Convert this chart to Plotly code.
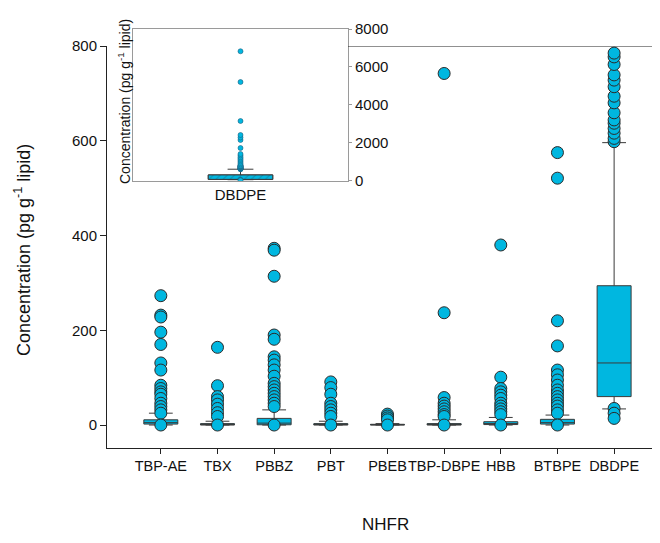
import plotly.graph_objects as go

# ---------------- data ----------------
categories = ["TBP-AE", "TBX", "PBBZ", "PBT", "PBEB", "TBP-DBPE", "HBB", "BTBPE", "DBDPE"]
q1 = [2, 0, 0.5, 0, 0, 0, 1, 2, 60]
median = [5, 1, 4, 1, 0.5, 1, 3, 5, 131]
q3 = [11, 3, 14, 3, 1.5, 3, 7, 12, 294]
lower_fence = [0, 0, 0, 0, 0, 0, 0, 0, 34]
upper_fence = [25, 8, 32, 8, 3, 11, 16, 21, 596]

out_tbpae = [273, 232, 228, 196, 170, 131, 116, 84, 77, 70, 65, 56, 46, 39, 32, 25, 0]
out_tbx = [164, 83, 60, 53, 44, 35, 26, 18, 0]
out_pbbz = [373, 369, 314, 190, 181, 144, 137, 127, 116, 103, 88, 81, 74, 67, 60, 53, 46, 39, 0]
out_pbt = [91, 79, 65, 46, 39, 32, 25, 18, 0]
out_pbeb = [23, 19, 15, 11, 0]
out_tbpdbpe = [742, 237, 58, 46, 40, 34, 28, 22, 18, 0]
out_hbb = [380, 101, 77, 70, 63, 56, 46, 40, 34, 28, 22, 0]
out_btbpe = [575, 521, 220, 167, 116, 106, 95, 84, 74, 67, 60, 53, 46, 40, 32, 25, 0]
out_dbdpe = [598, 605, 616, 626, 637, 644, 659, 680, 694, 714, 728, 739, 761, 777, 785,
             850, 920, 1000, 1080, 1150, 1230, 1320, 1400, 1716, 2139, 2271, 2403, 3142,
             5200, 6825, 35, 25, 14]
outliers = [out_tbpae, out_tbx, out_pbbz, out_pbt, out_pbeb, out_tbpdbpe, out_hbb, out_btbpe, out_dbdpe]

main_yticks = [0, 200, 400, 600, 800]
inset_yticks = [0, 2000, 4000, 6000, 8000]
inset_category = "DBDPE"

# ---------------- style ----------------
CYAN = "#00B7E0"
EDGE = "#2a2a2a"
FONT = "Liberation Sans, Arial, sans-serif"
idx = list(range(len(categories)))

fig = go.Figure()

# main boxes
fig.add_trace(go.Box(
    x=idx, q1=q1, median=median, q3=q3,
    lowerfence=lower_fence, upperfence=upper_fence,
    width=0.6, whiskerwidth=0.7, boxpoints=False,
    fillcolor=CYAN, line=dict(color="#3a3a3a", width=1),
    xaxis="x", yaxis="y", showlegend=False, hoverinfo="skip",
))

# main outliers
px, py = [], []
for i, vals in enumerate(outliers):
    px += [i] * len(vals)
    py += vals
fig.add_trace(go.Scatter(
    x=px, y=py, mode="markers",
    marker=dict(size=12, color=CYAN, line=dict(color=EDGE, width=1)),
    xaxis="x", yaxis="y", showlegend=False, hoverinfo="skip",
))

# inset box (DBDPE)
k = categories.index(inset_category)
fig.add_trace(go.Box(
    x=[0], q1=[q1[k]], median=[median[k]], q3=[q3[k]],
    lowerfence=[lower_fence[k]], upperfence=[upper_fence[k]],
    width=0.3, whiskerwidth=0.4, boxpoints=False,
    fillcolor=CYAN, line=dict(color="#3a3a3a", width=1),
    xaxis="x2", yaxis="y2", showlegend=False, hoverinfo="skip",
))
hw = 0.15
fig.add_trace(go.Scatter(
    x=[-hw, hw, hw, -hw, -hw],
    y=[q1[k], q1[k], q3[k], q3[k], q1[k]],
    mode="lines", fill="toself", fillcolor="rgba(0,0,0,0)",
    fillpattern=dict(shape="/", fgcolor="#1d5f80", bgcolor=CYAN, size=5, solidity=0.2),
    line=dict(color="#3a3a3a", width=1),
    xaxis="x2", yaxis="y2", showlegend=False, hoverinfo="skip",
))
fig.add_trace(go.Scatter(
    x=[0] * len(out_dbdpe), y=out_dbdpe, mode="markers",
    marker=dict(size=5, color=CYAN, line=dict(color="#1d5f80", width=0.6)),
    xaxis="x2", yaxis="y2", showlegend=False, hoverinfo="skip",
))

# page body has an 8px margin: work in reference pixels, shift by OFF
OFF = 8
W, H = 660 - OFF, 543 - OFF
ML, MR, MT, MB = 107 - OFF, 0, 29 - OFF, 95
pw, ph = W - ML - MR, H - MT - MB
main_top_px, main_bot_px = 46, 448
ins_l, ins_r, ins_t, ins_b = 133, 348, 29, 180.5

def xp(px_):
    return (px_ - OFF - ML) / pw

def yp(py_):
    return (H - MB - (py_ - OFF)) / ph

fig.update_layout(
    width=W, height=H,
    margin=dict(l=ML, r=MR, t=MT, b=MB),
    paper_bgcolor="white", plot_bgcolor="white",
    font=dict(family=FONT, size=15, color="#111"),
    xaxis=dict(
        domain=[0, 1], anchor="y", range=[-0.95, 8.81], automargin=False,
        tickvals=idx, ticktext=categories, tickangle=0, ticks="outside", ticklen=5,
        tickcolor="#222", showline=True, linecolor="#222", linewidth=1,
        showgrid=False, zeroline=False, tickfont=dict(size=14.5),
    ),
    yaxis=dict(
        domain=[yp(main_bot_px), yp(main_top_px)], anchor="x", automargin=False,
        range=[-48.5, 800], tickvals=main_yticks, ticks="outside", ticklen=6,
        tickcolor="#222", showline=True, linecolor="#222", linewidth=1,
        showgrid=False, zeroline=False, tickfont=dict(size=15),
    ),
    xaxis2=dict(
        domain=[xp(ins_l), xp(ins_r)], anchor="y2", range=[-0.5, 0.5], automargin=False,
        tickvals=[0], ticktext=[inset_category], ticks="",
        showline=True, mirror=True, linecolor="#9a9a9a", linewidth=1,
        showgrid=False, zeroline=False, tickfont=dict(size=15),
    ),
    yaxis2=dict(
        domain=[yp(ins_b), yp(ins_t)], anchor="x2", side="right", automargin=False,
        range=[0, 8000], tickvals=inset_yticks, ticks="outside", ticklen=3,
        tickcolor="#9a9a9a", showline=True, mirror=True, linecolor="#9a9a9a",
        linewidth=1, showgrid=False, zeroline=False, tickfont=dict(size=15),
    ),
    shapes=[dict(type="line", xref="paper", yref="y", x0=xp(ins_r), x1=1,
                 y0=800, y1=800, line=dict(color="#222", width=1.2))],
    annotations=[
        dict(text="Concentration (pg g<sup>-1</sup> lipid)", textangle=-90,
             xref="paper", yref="paper", x=xp(23), y=yp(250),
             showarrow=False, font=dict(size=18), xanchor="center", yanchor="middle"),
        dict(text="Concentration (pg g<sup>-1</sup> lipid)", textangle=-90,
             xref="paper", yref="paper", x=xp(124), y=yp(102),
             showarrow=False, font=dict(size=14), xanchor="center", yanchor="middle"),
        dict(text="NHFR", xref="paper", yref="paper", x=xp(385), y=yp(524),
             showarrow=False, font=dict(size=17), xanchor="center", yanchor="middle"),
    ],
)

fig.write_html("out.html")
